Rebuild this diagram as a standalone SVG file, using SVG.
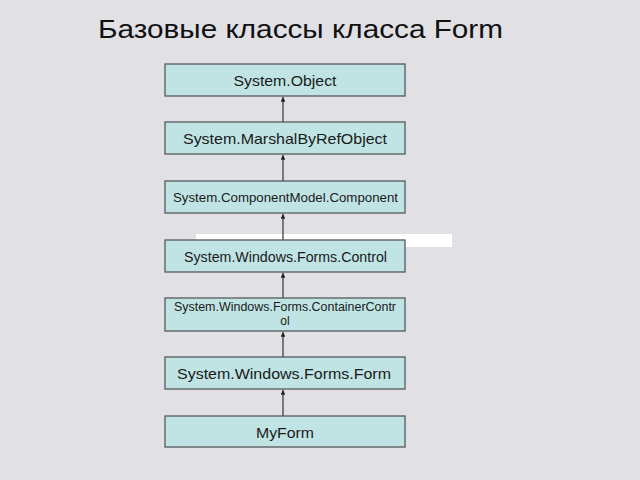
<svg xmlns="http://www.w3.org/2000/svg" width="640" height="480" viewBox="0 0 640 480">
<defs>
<marker id="ah" viewBox="0 0 6 6" refX="6" refY="3" markerWidth="4" markerHeight="4" orient="auto">
<path d="M0,0 L6,3 L0,6 z" fill="#222"/>
</marker>
<style>
.box{fill:#c0e4e4;stroke:#555a5a;stroke-width:1.3}
.t{font-family:"Liberation Sans",Arial,sans-serif;fill:#1a1a1a;text-anchor:middle}
.c{stroke:#333;stroke-width:1.2;fill:none;marker-end:url(#ah)}
</style>
</defs>
<rect width="640" height="480" fill="#e0e0e5"/>
<text x="98" y="38" font-family="Liberation Sans,Arial,sans-serif" font-size="25" fill="#111" textLength="405" lengthAdjust="spacingAndGlyphs">Базовые классы класса Form</text>
<rect x="196" y="234" width="256" height="13" fill="#ffffff"/>
<g id="connectors">
<line class="c" x1="283" y1="122" x2="283" y2="97"/>
<line class="c" x1="283" y1="181" x2="283" y2="155"/>
<line class="c" x1="283" y1="240" x2="283" y2="214"/>
<line class="c" x1="283" y1="298" x2="283" y2="273"/>
<line class="c" x1="283" y1="357" x2="283" y2="332"/>
<line class="c" x1="283" y1="416" x2="283" y2="390"/>
</g>
<g id="object"><rect class="box" x="165" y="64" width="240" height="32"/><text class="t" x="285" y="86" font-size="15" textLength="103" lengthAdjust="spacingAndGlyphs">System.Object</text></g>
<g id="marshal"><rect class="box" x="165" y="122" width="240" height="32"/><text class="t" x="285" y="144" font-size="15" textLength="204" lengthAdjust="spacingAndGlyphs">System.MarshalByRefObject</text></g>
<g id="component"><rect class="box" x="165" y="181" width="240" height="32"/><text class="t" x="285.5" y="201.5" font-size="13" textLength="225" lengthAdjust="spacingAndGlyphs">System.ComponentModel.Component</text></g>
<g id="control"><rect class="box" x="165" y="240" width="240" height="32"/><text class="t" x="285.5" y="261.5" font-size="14" textLength="203" lengthAdjust="spacingAndGlyphs">System.Windows.Forms.Control</text></g>
<g id="container"><rect class="box" x="165" y="298" width="240" height="33"/><text class="t" x="285" y="310.5" font-size="12" textLength="222" lengthAdjust="spacingAndGlyphs">System.Windows.Forms.ContainerContr</text><text class="t" x="285" y="325" font-size="12">ol</text></g>
<g id="form"><rect class="box" x="165" y="357" width="240" height="32"/><text class="t" x="284" y="378.5" font-size="15" textLength="214" lengthAdjust="spacingAndGlyphs">System.Windows.Forms.Form</text></g>
<g id="myform"><rect class="box" x="165" y="416" width="240" height="31"/><text class="t" x="285" y="437.5" font-size="15" textLength="58" lengthAdjust="spacingAndGlyphs">MyForm</text></g>
</svg>
